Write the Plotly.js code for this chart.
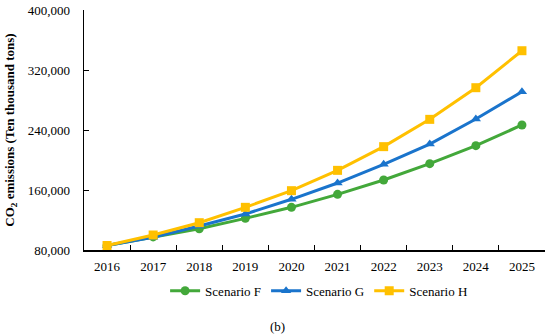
<!DOCTYPE html>
<html>
<head>
<meta charset="utf-8">
<script src="https://cdn.plot.ly/plotly-3.0.1.min.js"></script>
<style>html,body{margin:0;padding:0;background:#fff;}#chart{width:550px;height:335px;}</style>
</head>
<body>
<div id="chart"></div>
<script>
const years = ['2016','2017','2018','2019','2020','2021','2022','2023','2024','2025'];
const scenarioF = [86000, 97500, 108400, 122200, 136900, 154200, 173300, 195100, 219100, 246700];
const scenarioG = [86000, 97000, 112000, 128000, 147600, 169300, 194200, 221300, 254700, 291100];
const scenarioH = [86000, 100000, 116400, 136900, 159100, 186200, 217800, 254200, 296400, 345700];
const seriesNames = ['Scenario F', 'Scenario G', 'Scenario H'];
const yTicks = [80000, 160000, 240000, 320000, 400000];

const colors = ['#43A83A', '#1A74CC', '#FFC000'];
const symbols = ['circle', 'triangle-up', 'square'];
const allSeries = [scenarioF, scenarioG, scenarioH];

const traces = allSeries.map((vals, i) => ({
  x: years, y: vals, name: seriesNames[i], type: 'scatter', mode: 'lines+markers',
  line: {color: colors[i], width: 3},
  marker: {symbol: symbols[i], size: i === 2 ? 9 : 9, color: colors[i]}
}));

const font = {family: '"Liberation Serif", "Times New Roman", serif', color: '#000', size: 13};

const layout = {
  width: 550, height: 335,
  margin: {l: 84, r: 5, t: 10, b: 85},
  paper_bgcolor: '#fff', plot_bgcolor: '#fff',
  font: font,
  showlegend: true,
  legend: {orientation: 'h', x: 0.51, xanchor: 'center', y: -0.17, yanchor: 'middle',
           font: {family: font.family, size: 13, color: '#000'}, itemwidth: 30, tracegroupgap: 0},
  xaxis: {
    type: 'category', tickson: 'boundaries', ticks: 'inside', ticklen: 5, tickwidth: 1, tickcolor: '#000',
    showline: true, linecolor: '#000', linewidth: 1.5, showgrid: false, zeroline: false,
    range: [-0.5, 9.5], ticklabelstandoff: 4, tickfont: {size: 13}
  },
  yaxis: {
    range: [80000, 400000], tickvals: yTicks, tickformat: ',', ticks: 'inside', ticklen: 5, tickcolor: '#000',
    showline: true, linecolor: '#000', linewidth: 1.5, showgrid: false, zeroline: false,
    ticklabelstandoff: 10, tickfont: {size: 13},
    title: {text: '<b>CO<sub>2</sub> emissions (Ten thousand tons)</b>', font: {size: 13}, standoff: 10}
  },
  annotations: [{text: '(b)', xref: 'paper', yref: 'paper', x: 0.419, y: -0.32, xanchor: 'center', yanchor: 'middle',
                 showarrow: false, font: {size: 13}}]
};

Plotly.newPlot('chart', traces, layout, {displayModeBar: false, staticPlot: true});
</script>
</body>
</html>
